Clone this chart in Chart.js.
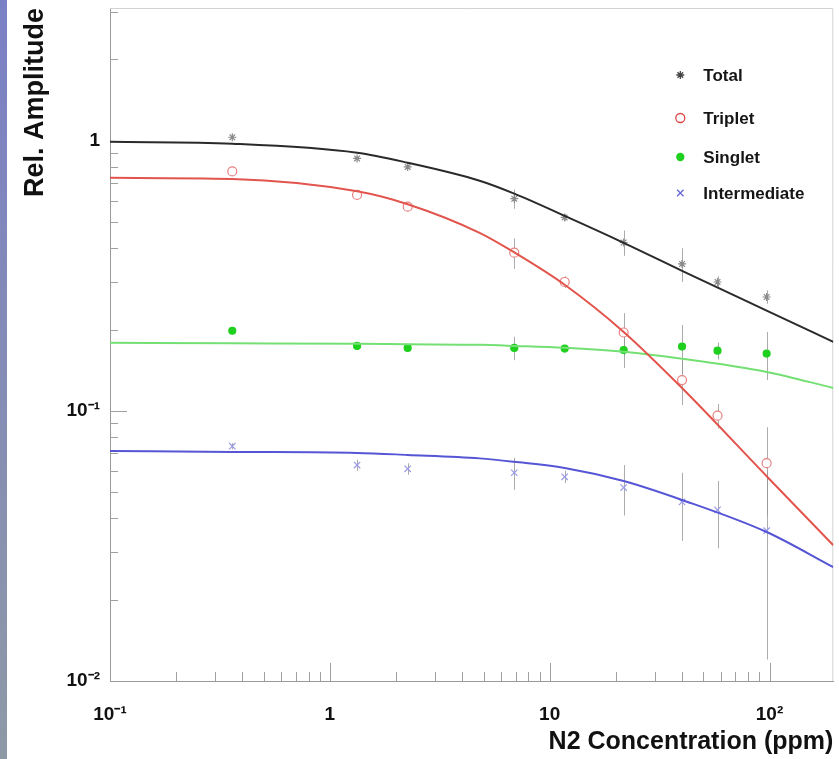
<!DOCTYPE html>
<html>
<head>
<meta charset="utf-8">
<script src="https://cdn.jsdelivr.net/npm/chart.js@4.4.0/dist/chart.umd.min.js"></script>
<style>
  html, body { margin: 0; padding: 0; background: #fff; }
  #wrap { position: relative; width: 839px; height: 759px; }
  #strip { position: absolute; left: 0; top: 0; width: 7px; height: 759px; background: linear-gradient(#7a80c5, #8e99a6); z-index: 2; }
  canvas { position: absolute; left: 0; top: 0; }
</style>
</head>
<body>
<div id="wrap">
  <div id="strip"></div>
  <canvas id="ampChart" width="839" height="759"></canvas>
</div>
<script>
// measured points, N2 concentration in ppm
const concentration = [0.36, 1.33, 2.26, 6.9, 11.7, 21.7, 40, 58, 97];
const totalAmp = [1.03, 0.86, 0.80, 0.61, 0.52, 0.42, 0.35, 0.30, 0.264];
const tripletAmp = [0.77, 0.63, 0.57, 0.385, 0.30, 0.195, 0.13, 0.096, 0.064];
const singletAmp = [0.198, 0.174, 0.171, 0.171, 0.170, 0.168, 0.173, 0.167, 0.163];
const intermediateAmp = [0.074, 0.063, 0.061, 0.059, 0.057, 0.052, 0.046, 0.043, 0.036];

// error bars (+/-)
const totalErr = [0.015, 0.015, 0.015, 0.05, 0.015, 0.045, 0.05, 0.015, 0.015];
const tripletErr = [0.015, 0.015, 0.015, 0.05, 0.015, 0.035, 0.025, 0.01, 0.023];
const singletErr = [0.004, 0.004, 0.004, 0.017, 0.004, 0.024, 0.035, 0.012, 0.033];
const intermediateErr = [0.002, 0.003, 0.003, 0.008, 0.003, 0.011, 0.013, 0.012, 0.024];

// fit curves
const fitX = [0.1, 0.36, 1.33, 2.26, 4.8, 6.9, 11.7, 21.7, 40, 97, 195];
const totalFit = [0.991, 0.975, 0.903, 0.829, 0.711, 0.637, 0.527, 0.419, 0.330, 0.235, 0.180];
const tripletFit = [0.729, 0.722, 0.650, 0.582, 0.456, 0.386, 0.293, 0.196, 0.1215, 0.0573, 0.0318];
const singletFit = [0.1786, 0.1779, 0.1771, 0.1764, 0.1756, 0.174, 0.1712, 0.1655, 0.156, 0.1394, 0.1216];
const intermediateFit = [0.0711, 0.0705, 0.0699, 0.0687, 0.0667, 0.0648, 0.0615, 0.055, 0.0468, 0.0356, 0.0264];

const xTicks = [0.1, 1, 10, 100];
const xTickLabels = ['10⁻¹', '1', '10', '10²'];
const yTicks = [0.01, 0.1, 1];
const yTickLabels = ['10⁻²', '10⁻¹', '1'];

const FONT = '"Liberation Sans", Arial, Helvetica, sans-serif';

function toPoints(xs, ys) {
    return xs.map((x, i) => ({ x: x, y: ys[i] }));
}

function fitLine(label, ys, color) {
    return {
        label: label,
        data: toPoints(fitX, ys),
        showLine: true,
        borderColor: color,
        borderWidth: 2,
        pointRadius: 0,
        cubicInterpolationMode: 'monotone',
        order: 0
    };
}

function markers(label, ys, errs, style, color, fill, radius, legendColor) {
    return {
        label: label,
        data: toPoints(concentration, ys),
        errors: errs,
        legendColor: legendColor,
        pointStyle: style,
        pointRadius: radius,
        pointBorderWidth: 1.2,
        pointBorderColor: color,
        pointBackgroundColor: fill,
        showLine: false,
        order: 1
    };
}

// frame on top/right and ROOT-style log ticks pointing inward
const frameTicks = {
    id: 'frameTicks',
    beforeDatasetsDraw(chart) {
        const { ctx, chartArea: a, scales: { x, y } } = chart;
        ctx.save();
        ctx.lineWidth = 1;
        ctx.strokeStyle = '#d2d2d2';
        ctx.beginPath();
        ctx.moveTo(a.left, a.top + 0.5);
        ctx.lineTo(a.right - 0.5, a.top + 0.5);
        ctx.lineTo(a.right - 0.5, a.bottom);
        ctx.stroke();

        ctx.strokeStyle = '#a0a0a0';
        ctx.beginPath();
        for (let d = -1; d <= 2; d++) {
            for (let m = 1; m <= 9; m++) {
                const v = m * Math.pow(10, d);
                if (v <= x.min || v > x.max) continue;
                const px = Math.round(x.getPixelForValue(v)) + 0.5;
                const len = m === 1 ? 18 : 9;
                ctx.moveTo(px, a.bottom);
                ctx.lineTo(px, a.bottom - len);
            }
        }
        for (let d = -2; d <= 0; d++) {
            for (let m = 1; m <= 9; m++) {
                const v = m * Math.pow(10, d);
                if (v <= y.min || v > y.max) continue;
                const py = Math.round(y.getPixelForValue(v)) + 0.5;
                const len = m === 1 ? 17 : 8;
                ctx.moveTo(a.left, py);
                ctx.lineTo(a.left + len, py);
            }
        }
        ctx.stroke();
        ctx.restore();
    }
};

const errorBars = {
    id: 'errorBars',
    beforeDatasetsDraw(chart) {
        const { ctx, chartArea: a, scales: { x, y } } = chart;
        ctx.save();
        ctx.beginPath();
        ctx.rect(a.left, a.top, a.right - a.left, a.bottom - a.top);
        ctx.clip();
        ctx.strokeStyle = 'rgba(150,150,150,0.8)';
        ctx.lineWidth = 1;
        ctx.beginPath();
        chart.data.datasets.forEach(ds => {
            if (!ds.errors) return;
            ds.data.forEach((p, i) => {
                const e = ds.errors[i];
                const px = Math.round(x.getPixelForValue(p.x)) + 0.5;
                ctx.moveTo(px, y.getPixelForValue(p.y + e));
                ctx.lineTo(px, y.getPixelForValue(Math.max(p.y - e, 0.001)));
            });
        });
        ctx.stroke();
        ctx.restore();
    }
};

const legendRows = [75, 118, 157, 193];

const innerLegend = {
    id: 'innerLegend',
    afterDraw(chart) {
        const { ctx, chartArea: a } = chart;
        const markerX = a.right - 153;
        const textX = a.right - 130;
        ctx.save();
        ctx.font = 'bold 17px ' + FONT;
        ctx.textBaseline = 'middle';
        chart.data.datasets.filter(ds => ds.errors).forEach((ds, i) => {
            const yy = legendRows[i];
            ctx.strokeStyle = ds.legendColor;
            ctx.fillStyle = ds.pointBackgroundColor === '#ffffff' ? '#ffffff' : ds.legendColor;
            ctx.lineWidth = 1.3;
            Chart.helpers.drawPoint(ctx, {
                pointStyle: ds.pointStyle,
                radius: ds.pointRadius,
                borderWidth: 1.3,
                rotation: 0
            }, markerX, yy);
            ctx.fillStyle = '#151515';
            ctx.fillText(ds.label, textX, yy + 1);
        });
        ctx.restore();
    }
};

window.onload = function() {
    const ctx = document.getElementById('ampChart').getContext('2d');
    new Chart(ctx, {
        type: 'scatter',
        data: {
            datasets: [
                fitLine('Total fit', totalFit, '#2a2a2a'),
                fitLine('Triplet fit', tripletFit, '#e2554d'),
                fitLine('Singlet fit', singletFit, '#74e074'),
                fitLine('Intermediate fit', intermediateFit, '#5555d5'),
                markers('Total', totalAmp, totalErr, 'star', '#8a8a8a', '#8a8a8a', 4, '#444444'),
                markers('Triplet', tripletAmp, tripletErr, 'circle', '#e88080', '#ffffff', 4.5, '#e04545'),
                markers('Singlet', singletAmp, singletErr, 'circle', '#1fd01f', '#1fd01f', 3.5, '#1fd01f'),
                markers('Intermediate', intermediateAmp, intermediateErr, 'crossRot', '#9a9ae6', '#9a9ae6', 4.5, '#6565dd')
            ]
        },
        options: {
            responsive: false,
            animation: false,
            layout: { padding: { top: 8, right: 5, left: 0, bottom: 0 } },
            plugins: {
                legend: { display: false },
                tooltip: { enabled: false }
            },
            scales: {
                x: {
                    type: 'logarithmic',
                    min: 0.1,
                    max: 195,
                    afterBuildTicks: s => { s.ticks = xTicks.map(v => ({ value: v })); },
                    afterFit: s => { s.height = 78; s.paddingLeft = 0; s.paddingRight = 0; },
                    grid: { display: false, drawTicks: false },
                    border: { display: true, color: '#9a9a9a', width: 1 },
                    ticks: {
                        callback: (v, i) => xTickLabels[i],
                        autoSkip: false,
                        maxRotation: 0,
                        padding: 22,
                        color: '#111',
                        font: { family: FONT, size: 19, weight: 'bold' }
                    },
                    title: {
                        display: true,
                        text: 'N2 Concentration (ppm)',
                        align: 'end',
                        color: '#111',
                        font: { family: FONT, size: 25, weight: 'bold' },
                        padding: { top: 0, bottom: 2 }
                    }
                },
                y: {
                    type: 'logarithmic',
                    min: 0.01,
                    max: 3.1,
                    afterBuildTicks: s => { s.ticks = yTicks.map(v => ({ value: v })); },
                    afterFit: s => { s.width = 110; s.paddingTop = 0; s.paddingBottom = 0; },
                    grid: { display: false, drawTicks: false },
                    border: { display: true, color: '#9a9a9a', width: 1 },
                    ticks: {
                        callback: (v, i) => yTickLabels[i],
                        autoSkip: false,
                        padding: 10,
                        color: '#111',
                        font: { family: FONT, size: 19, weight: 'bold' }
                    },
                    title: {
                        display: true,
                        text: 'Rel. Amplitude',
                        align: 'end',
                        color: '#111',
                        font: { family: FONT, size: 27, weight: 'bold' },
                        padding: { top: 19, bottom: 0 }
                    }
                }
            }
        },
        plugins: [frameTicks, errorBars, innerLegend]
    });
};
</script>
</body>
</html>
